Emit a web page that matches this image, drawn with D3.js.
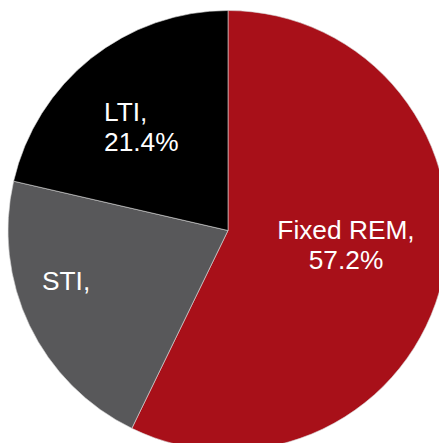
<!DOCTYPE html>
<html>
<head>
<meta charset="utf-8">
<script src="https://cdn.jsdelivr.net/npm/d3@7"></script>
<style>
  html, body { margin: 0; padding: 0; background: #fff; }
  svg { display: block; }
</style>
</head>
<body>
<div id="chart"></div>
<script>
// Data
const categories = ["Fixed REM", "STI", "LTI"];
const shares = [57.2, 21.4, 21.4];
// STI shows only its name in the original
const labelLines = [["Fixed REM,", "57.2%"], ["STI,"], ["LTI,", "21.4%"]];
const colors = ["#a81019", "#58585a", "#000000"];

// Layout
const width = 439;
const height = 443;
const cx = 228, cy = 230.5;
const radius = 220;
const fontSize = 26.3;
const lineGap = 30;

// label placement relative to pie centre: [dx, dy of first baseline, anchor]
const labelLayout = [
  [118, 8, "middle"],
  [-186, 59, "start"],
  [-124, -110, "start"]
];

let data = categories.map((c, i) => ({ name: c, value: shares[i], idx: i }));

let svg = d3.select("#chart")
  .append("svg")
  .attr("width", width)
  .attr("height", height);

let g = svg.append("g")
  .attr("transform", "translate(" + cx + "," + cy + ")");

let pie = d3.pie()
  .sort(null)
  .value(d => d.value);

let arc = d3.arc()
  .innerRadius(0)
  .outerRadius(radius);

g.selectAll("path")
  .data(pie(data))
  .enter()
  .append("path")
  .attr("d", arc)
  .attr("fill", d => colors[d.data.idx])
  .attr("stroke", "#d9d9d9")
  .attr("stroke-width", 0.6);

// Labels
let labels = g.selectAll("text.lbl")
  .data(data)
  .enter()
  .append("text")
  .attr("class", "lbl")
  .attr("font-family", "'Liberation Sans', Arial, sans-serif")
  .attr("font-size", fontSize)
  .attr("fill", "#ffffff")
  .attr("text-anchor", d => labelLayout[d.idx][2]);

labels.selectAll("tspan")
  .data(d => labelLines[d.idx].map((t, j) => ({ t: t, j: j, idx: d.idx })))
  .enter()
  .append("tspan")
  .attr("x", d => labelLayout[d.idx][0])
  .attr("y", d => labelLayout[d.idx][1] + d.j * lineGap)
  .text(d => d.t);
</script>
</body>
</html>
